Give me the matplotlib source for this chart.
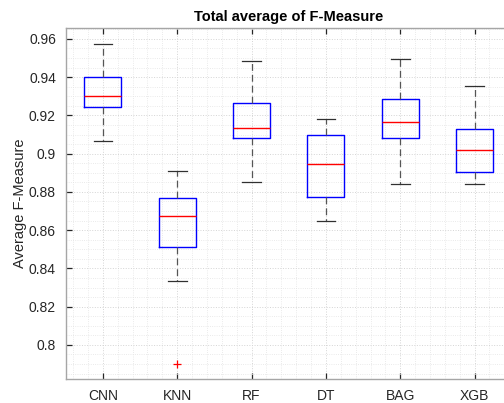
import matplotlib
matplotlib.use("Agg")
import matplotlib.pyplot as plt
from matplotlib.ticker import MultipleLocator

labels = ['CNN', 'KNN', 'RF', 'DT', 'BAG', 'XGB']
med = [0.930, 0.8672, 0.9136, 0.8947, 0.9164, 0.9017]
q1 = [0.9244, 0.8511, 0.9082, 0.8771, 0.9082, 0.8904]
q3 = [0.9400, 0.8769, 0.9263, 0.9096, 0.9287, 0.9129]
whislo = [0.9066, 0.8335, 0.8850, 0.8649, 0.8839, 0.8841]
whishi = [0.9575, 0.8910, 0.9483, 0.9181, 0.9494, 0.9355]
fliers = [[], [0.7898], [], [], [], []]

plt.rcParams['font.family'] = ['Liberation Sans', 'DejaVu Sans']

# stats for bxp
stats = []
for i in range(len(labels)):
    stats.append({'label': labels[i], 'med': med[i], 'q1': q1[i], 'q3': q3[i],
                  'whislo': whislo[i], 'whishi': whishi[i], 'fliers': fliers[i]})

fig = plt.figure(figsize=(5.04, 4.03), dpi=100)
ax = fig.add_axes([0.1304, 0.0588, 0.885, 0.8717])

ax.set_axisbelow(True)
ax.grid(True, which='major', linestyle=':', color='#d4d4d4', linewidth=0.7)
ax.grid(True, which='minor', linestyle=':', color='#e3e3e3', linewidth=0.6)

ax.bxp(stats, positions=range(1, len(labels) + 1), widths=0.5,
       boxprops=dict(color='#0000ff', linewidth=1.0),
       medianprops=dict(color='#ff0000', linewidth=1.0),
       whiskerprops=dict(color='#555555', linewidth=0.9, linestyle=(0, (5.5, 3.2))),
       capprops=dict(color='#303030', linewidth=0.9),
       flierprops=dict(marker='+', markeredgecolor='#ff0000', markersize=6,
                       markeredgewidth=0.9, linestyle='none'))

ax.set_xlim(0.5, 6.5)
ax.set_ylim(0.782, 0.9657)
ax.yaxis.set_minor_locator(MultipleLocator(0.005))
ax.xaxis.set_minor_locator(MultipleLocator(0.2))
ax.set_yticks([0.8, 0.82, 0.84, 0.86, 0.88, 0.9, 0.92, 0.94, 0.96])
ax.set_yticklabels(['0.8', '0.82', '0.84', '0.86', '0.88', '0.9', '0.92', '0.94', '0.96'])

ax.tick_params(which='major', direction='in', length=4, width=0.9, color='#262626',
               labelsize=10, labelcolor='#262626', top=True, right=False, pad=7)
ax.tick_params(which='minor', length=0)
for s in ['left', 'bottom', 'top']:
    ax.spines[s].set_color('#a6a6a6')
    ax.spines[s].set_linewidth(1.0)
ax.spines['right'].set_visible(False)

ax.set_ylabel('Average F-Measure', fontsize=10.5, color='#262626', labelpad=1)
ax.set_title('Total average of F-Measure', fontsize=10.5, fontweight='bold', pad=5)

fig.savefig('out.png', dpi=100)
